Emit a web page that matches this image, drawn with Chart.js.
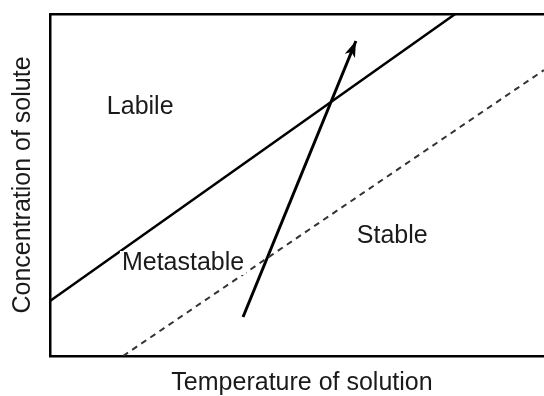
<!DOCTYPE html>
<html>
<head>
<meta charset="utf-8">
<script src="https://cdn.jsdelivr.net/npm/chart.js@4/dist/chart.umd.min.js"></script>
<style>
  html, body { margin: 0; padding: 0; background: #fff; overflow: hidden; }
  /* frame runs a little past the right edge of the picture */
  #wrap { width: 554px; height: 396px; }
</style>
</head>
<body>
<div id="wrap"><canvas id="phaseChart"></canvas></div>
<script>
// solubility diagram, both axes in arbitrary units 0-100
const supersolubilityCurve = [{x: 0, y: 16.1}, {x: 80.4, y: 100}];
const solubilityCurve = [{x: 14.5, y: 0}, {x: 98.0, y: 83.6}];
const coolingPath = [{x: 38.3, y: 11.4}, {x: 60.7, y: 92.1}];
const regionNames = ['Labile', 'Metastable', 'Stable'];
const regionX = [17.9, 26.4, 67.9];
const regionY = [72.8, 27.2, 35.1];
const xAxisTitle = 'Temperature of solution';
const yAxisTitle = 'Concentration of solute';

const FONT = '"Liberation Sans", Arial, sans-serif';

const regionLabels = {
    id: 'regionLabels',
    afterDatasetsDraw(chart) {
        const {ctx, scales: {x, y}} = chart;
        ctx.save();
        ctx.font = '25px ' + FONT;
        ctx.textAlign = 'center';
        ctx.textBaseline = 'middle';
        regionNames.forEach((name, i) => {
            const px = x.getPixelForValue(regionX[i]);
            const py = y.getPixelForValue(regionY[i]);
            const w = ctx.measureText(name).width;
            ctx.fillStyle = '#fff';
            ctx.fillRect(px - w / 2 - 2, py - 12, w + 4, 24);
            ctx.fillStyle = '#1a1a1a';
            ctx.fillText(name, px, py);
        });
        ctx.restore();
    }
};

const arrowHead = {
    id: 'arrowHead',
    afterDatasetsDraw(chart) {
        const pts = chart.getDatasetMeta(2).data;
        const a = pts[0], b = pts[1];
        const ang = Math.atan2(b.y - a.y, b.x - a.x);
        const ctx = chart.ctx;
        ctx.save();
        ctx.translate(b.x, b.y);
        ctx.rotate(ang);
        ctx.beginPath();
        ctx.moveTo(0, 0);
        ctx.lineTo(-16, -5.5);
        ctx.lineTo(-12, 0);
        ctx.lineTo(-16, 5.5);
        ctx.closePath();
        ctx.fillStyle = '#000';
        ctx.fill();
        ctx.restore();
    }
};

function hiddenAxis(position) {
    return {
        type: 'linear',
        display: true,
        position: position,
        min: 0,
        max: 100,
        grid: { display: false, drawTicks: false },
        ticks: { display: false },
        border: { display: true, color: '#000', width: 2.5 }
    };
}

const xScale = hiddenAxis('bottom');
xScale.title = {
    display: true,
    text: xAxisTitle,
    color: '#1a1a1a',
    font: { family: FONT, size: 25, lineHeight: 1 },
    padding: { top: 15, bottom: 0 }
};
const yScale = hiddenAxis('left');
yScale.title = {
    display: true,
    text: yAxisTitle,
    color: '#1a1a1a',
    font: { family: FONT, size: 25, lineHeight: 1 },
    padding: { top: 11, bottom: 14 }
};

new Chart(document.getElementById('phaseChart'), {
    type: 'scatter',
    data: {
        datasets: [
            {
                data: supersolubilityCurve,
                showLine: true,
                borderColor: '#000',
                borderWidth: 2.5,
                pointRadius: 0
            },
            {
                data: solubilityCurve,
                showLine: true,
                borderColor: '#333',
                borderWidth: 2,
                borderDash: [6, 5],
                pointRadius: 0
            },
            {
                data: coolingPath,
                showLine: true,
                borderColor: '#000',
                borderWidth: 3,
                pointRadius: 0
            }
        ]
    },
    options: {
        responsive: true,
        maintainAspectRatio: false,
        animation: false,
        devicePixelRatio: 1,
        layout: { padding: { top: 14, right: 0, bottom: 0, left: 0 } },
        plugins: {
            legend: { display: false },
            tooltip: { enabled: false }
        },
        scales: {
            x: xScale,
            xTop: hiddenAxis('top'),
            y: yScale
        }
    },
    plugins: [regionLabels, arrowHead]
});
</script>
</body>
</html>
